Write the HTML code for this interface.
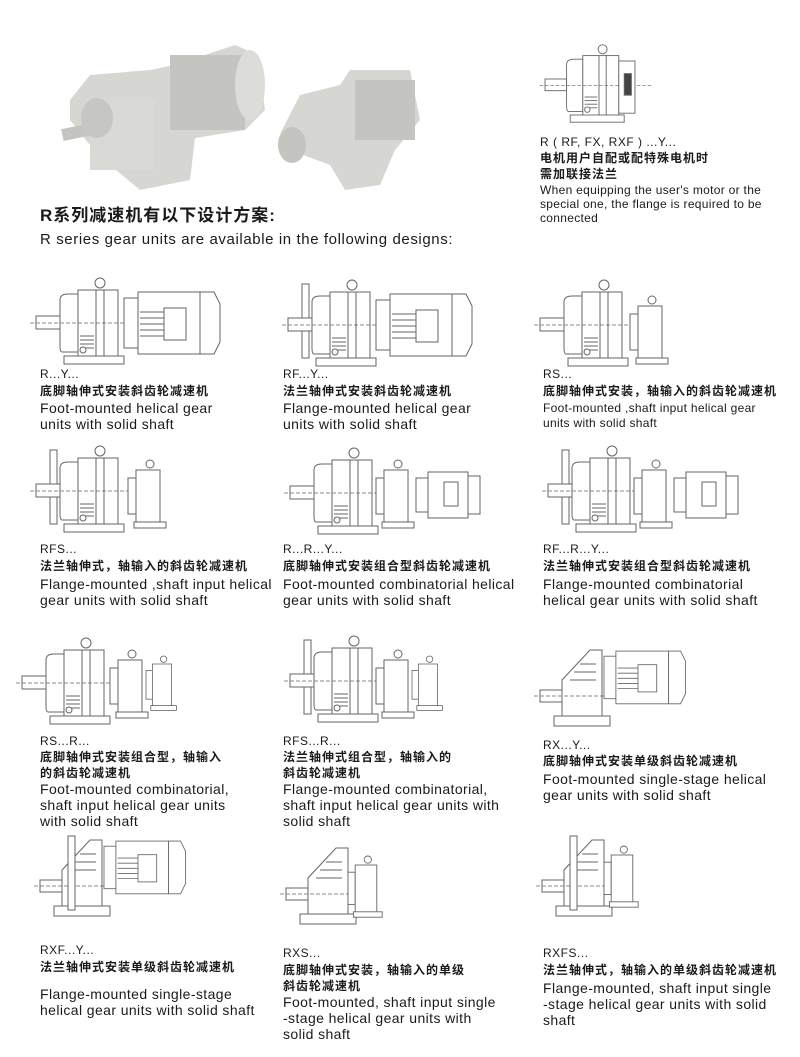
<!DOCTYPE html>
<html><head><meta charset="utf-8">
<style>
body{margin:0;background:#fff;}
#p{position:relative;width:800px;height:1057px;overflow:hidden;background:#fff;font-family:"Liberation Sans","Noto Sans CJK SC",sans-serif;color:#1a1a1a;}
.t{position:absolute;white-space:nowrap;font-size:14px;line-height:16px;letter-spacing:0.4px;}
.c{font-size:12px;font-weight:bold;letter-spacing:1px;}
.k{font-size:12px;letter-spacing:0.5px;}
.s{font-size:12px;letter-spacing:0.3px;}
svg{position:absolute;left:0;top:0;}
</style></head><body><div id="p">
<svg width="800" height="1057" viewBox="0 0 800 1057">
<defs>
<g id="g" fill="#fff" stroke="#666" stroke-width="1">
 <rect x="0" y="30" width="24" height="13"/>
 <path d="M24 14 Q24 8 32 8 L42 8 L42 66 L26 66 Q24 66 24 60 Z"/>
 <rect x="42" y="4" width="40" height="70"/>
 <line x1="60" y1="4" x2="60" y2="74"/><line x1="68" y1="4" x2="68" y2="74"/>
 <circle cx="64" cy="-3" r="5"/>
 <rect x="28" y="70" width="60" height="8"/>
 <line x1="-6" y1="37" x2="120" y2="37" stroke-dasharray="4 2" stroke-width="0.7"/>
 <line x1="44" y1="50" x2="58" y2="50"/><line x1="44" y1="54" x2="58" y2="54"/><line x1="44" y1="58" x2="58" y2="58"/><line x1="44" y1="62" x2="58" y2="62"/>
 <circle cx="47" cy="64" r="3"/>
</g>
<g id="m" fill="#fff" stroke="#666" stroke-width="1">
 <rect x="0" y="12" width="14" height="50"/>
 <rect x="14" y="6" width="62" height="62"/>
 <path d="M76 6 L90 6 L96 18 L96 56 L90 68 L76 68 Z"/>
 <rect x="40" y="22" width="22" height="32"/>
 <line x1="16" y1="26" x2="40" y2="26"/><line x1="16" y1="32" x2="40" y2="32"/><line x1="16" y1="38" x2="40" y2="38"/><line x1="16" y1="44" x2="40" y2="44"/><line x1="16" y1="50" x2="40" y2="50"/>
</g>
<g id="sm" fill="#fff" stroke="#666" stroke-width="1">
 <rect x="0" y="16" width="12" height="34"/>
 <rect x="12" y="10" width="40" height="46"/>
 <rect x="52" y="14" width="12" height="38"/>
 <rect x="28" y="20" width="14" height="24"/>
</g>
<g id="sg" fill="#fff" stroke="#666" stroke-width="1">
 <rect x="0" y="18" width="8" height="36"/>
 <rect x="8" y="10" width="24" height="56"/>
 <circle cx="22" cy="4" r="4"/>
 <rect x="6" y="62" width="32" height="6"/>
</g>
<g id="rx" fill="#fff" stroke="#666" stroke-width="1">
 <rect x="0" y="40" width="22" height="12"/>
 <path d="M22 66 L22 30 L50 0 L62 0 L62 66 Z"/>
 <rect x="14" y="66" width="56" height="10"/>
 <line x1="-6" y1="46" x2="70" y2="46" stroke-dasharray="4 2" stroke-width="0.7"/>
 <line x1="40" y1="14" x2="56" y2="14"/><line x1="34" y1="22" x2="56" y2="22"/><line x1="30" y1="30" x2="56" y2="30"/>
</g>
<g id="fl" fill="#fff" stroke="#666" stroke-width="1"><rect x="0" y="0" width="7" height="74"/></g>
</defs>

<g>
 <path d="M70 100 L90 75 L150 70 L175 65 L235 45 L258 55 L265 110 L245 130 L195 138 L190 180 L140 190 L110 165 L90 145 L70 120 Z" fill="#d6d7d3"/>
 <rect x="170" y="55" width="75" height="75" fill="#c4c5c1"/>
 <ellipse cx="250" cy="85" rx="15" ry="35" fill="#dcddd9"/>
 <rect x="62" y="125" width="40" height="12" fill="#c4c4c0" transform="rotate(-12 82 131)"/>
 <rect x="90" y="100" width="65" height="70" fill="#d9dad6"/>
 <ellipse cx="97" cy="118" rx="16" ry="20" fill="#c6c7c3"/>
 <path d="M282 130 L300 95 L340 85 L350 70 L410 70 L420 120 L395 150 L380 185 L345 190 L330 165 L290 150 L278 140 Z" fill="#d6d7d3"/>
 <rect x="355" y="80" width="60" height="60" fill="#c4c5c1"/>
 <ellipse cx="292" cy="145" rx="14" ry="18" fill="#c4c5c1"/>
</g>

<g transform="translate(545,52) scale(0.9)"><use href="#g"/><g fill="#fff" stroke="#666"><rect x="82" y="10" width="18" height="58"/><rect x="88" y="24" width="8" height="24" fill="#444"/></g></g>

<g transform="translate(36,286)"><use href="#g"/><use href="#m" transform="translate(88,0)"/></g>
<g transform="translate(288,284)"><use href="#fl" transform="translate(14,0)"/><use href="#g" transform="translate(0,4)"/><use href="#m" transform="translate(88,4)"/></g>
<g transform="translate(540,288)"><use href="#g"/><use href="#sg" transform="translate(90,8)"/></g>

<g transform="translate(36,450)"><use href="#fl" transform="translate(14,0)"/><use href="#g" transform="translate(0,4)"/><use href="#sg" transform="translate(92,10)"/></g>
<g transform="translate(290,456)"><use href="#g"/><use href="#sg" transform="translate(86,4)"/><use href="#sm" transform="translate(126,6)"/></g>
<g transform="translate(548,450)"><use href="#fl" transform="translate(14,0)"/><use href="#g" transform="translate(0,4)"/><use href="#sg" transform="translate(86,10)"/><use href="#sm" transform="translate(126,12)"/></g>

<g transform="translate(22,646)"><use href="#g"/><use href="#sg" transform="translate(88,4)"/><use href="#sg" transform="translate(124,10) scale(0.8)"/></g>
<g transform="translate(290,640)"><use href="#fl" transform="translate(14,0)"/><use href="#g" transform="translate(0,4)"/><use href="#sg" transform="translate(86,10)"/><use href="#sg" transform="translate(122,16) scale(0.8)"/></g>
<g transform="translate(540,650)"><use href="#rx"/><use href="#m" transform="translate(64,-4) scale(0.85)"/></g>

<g transform="translate(40,840)"><use href="#rx"/><use href="#fl" transform="translate(28,-4)"/><use href="#m" transform="translate(64,-4) scale(0.85)"/></g>
<g transform="translate(286,848)"><use href="#rx"/><use href="#sg" transform="translate(62,8) scale(0.9)"/></g>
<g transform="translate(542,840)"><use href="#rx"/><use href="#fl" transform="translate(28,-4)"/><use href="#sg" transform="translate(62,6) scale(0.9)"/></g>
</svg>

<div class="t k" style="left:540px;top:134px">R ( RF, FX, RXF ) ...Y...</div>
<div class="t c" style="left:540px;top:150px">电机用户自配或配特殊电机时</div>
<div class="t c" style="left:540px;top:166px">需加联接法兰</div>
<div class="t s" style="left:540px;top:183px;line-height:14px">When equipping the user's motor or the<br>special one, the flange is required to be<br>connected</div>

<div class="t" style="left:40px;top:206px;font-size:17px;font-weight:bold;line-height:20px;letter-spacing:1px">R系列减速机有以下设计方案:</div>
<div class="t" style="left:40px;top:231px;font-size:15px;line-height:18px;letter-spacing:0.6px">R series gear units are available in the following designs:</div>

<div class="t k" style="left:40px;top:366px">R...Y...</div>
<div class="t c" style="left:40px;top:383px">底脚轴伸式安装斜齿轮减速机</div>
<div class="t" style="left:40px;top:400px">Foot-mounted helical gear<br>units with solid shaft</div>

<div class="t k" style="left:283px;top:366px">RF...Y...</div>
<div class="t c" style="left:283px;top:383px">法兰轴伸式安装斜齿轮减速机</div>
<div class="t" style="left:283px;top:400px">Flange-mounted helical gear<br>units with solid shaft</div>

<div class="t k" style="left:543px;top:366px">RS...</div>
<div class="t c" style="left:543px;top:383px">底脚轴伸式安装，轴输入的斜齿轮减速机</div>
<div class="t s" style="left:543px;top:401px;line-height:15px">Foot-mounted ,shaft input helical gear<br>units with solid shaft</div>

<div class="t k" style="left:40px;top:541px">RFS...</div>
<div class="t c" style="left:40px;top:558px">法兰轴伸式，轴输入的斜齿轮减速机</div>
<div class="t" style="left:40px;top:576px">Flange-mounted ,shaft input helical<br>gear units with solid shaft</div>

<div class="t k" style="left:283px;top:541px">R...R...Y...</div>
<div class="t c" style="left:283px;top:558px">底脚轴伸式安装组合型斜齿轮减速机</div>
<div class="t" style="left:283px;top:576px">Foot-mounted combinatorial helical<br>gear units with solid shaft</div>

<div class="t k" style="left:543px;top:541px">RF...R...Y...</div>
<div class="t c" style="left:543px;top:558px">法兰轴伸式安装组合型斜齿轮减速机</div>
<div class="t" style="left:543px;top:576px">Flange-mounted combinatorial<br>helical gear units with solid shaft</div>

<div class="t k" style="left:40px;top:733px">RS...R...</div>
<div class="t c" style="left:40px;top:749px">底脚轴伸式安装组合型，轴输入<br>的斜齿轮减速机</div>
<div class="t" style="left:40px;top:781px">Foot-mounted combinatorial,<br>shaft input helical gear units<br>with solid shaft</div>

<div class="t k" style="left:283px;top:733px">RFS...R...</div>
<div class="t c" style="left:283px;top:749px">法兰轴伸式组合型，轴输入的<br>斜齿轮减速机</div>
<div class="t" style="left:283px;top:781px">Flange-mounted combinatorial,<br>shaft input helical gear units with<br>solid shaft</div>

<div class="t k" style="left:543px;top:737px">RX...Y...</div>
<div class="t c" style="left:543px;top:753px">底脚轴伸式安装单级斜齿轮减速机</div>
<div class="t" style="left:543px;top:771px">Foot-mounted single-stage helical<br>gear units with solid shaft</div>

<div class="t k" style="left:40px;top:942px">RXF...Y...</div>
<div class="t c" style="left:40px;top:959px">法兰轴伸式安装单级斜齿轮减速机</div>
<div class="t" style="left:40px;top:986px">Flange-mounted single-stage<br>helical gear units with solid shaft</div>

<div class="t k" style="left:283px;top:945px">RXS...</div>
<div class="t c" style="left:283px;top:962px">底脚轴伸式安装，轴输入的单级<br>斜齿轮减速机</div>
<div class="t" style="left:283px;top:994px">Foot-mounted, shaft input single<br>-stage  helical gear units with<br>solid shaft</div>

<div class="t k" style="left:543px;top:945px">RXFS...</div>
<div class="t c" style="left:543px;top:962px">法兰轴伸式，轴输入的单级斜齿轮减速机</div>
<div class="t" style="left:543px;top:980px">Flange-mounted, shaft input single<br>-stage  helical gear units with solid<br>shaft</div>
</div></body></html>
